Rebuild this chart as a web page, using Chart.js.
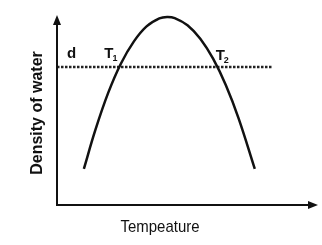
<!DOCTYPE html>
<html>
<head>
<meta charset="utf-8">
<script src="https://cdn.jsdelivr.net/npm/chart.js@4.4.1/dist/chart.umd.min.js"></script>
<style>
  html, body { margin: 0; padding: 0; background: #fff; }
  #wrap { width: 322px; height: 245px; }
</style>
</head>
<body>
<div id="wrap"><canvas id="c" width="322" height="245"></canvas></div>
<script>
// curve (temperature vs density, arbitrary units)
const tempValues = [1.05, 1.5, 2.0, 2.5, 3.0, 3.5, 4.0, 4.3, 4.6, 5.1, 5.6, 6.1, 6.6, 7.1, 7.73];
const densityValues = [1.9, 3.95, 5.9, 7.45, 8.6, 9.4, 9.82, 9.9, 9.84, 9.46, 8.75, 7.7, 6.3, 4.55, 1.9];

// dotted reference level d
const dLevel = 7.26;
const dRange = [0, 8.44];

// annotation labels
const markLabels = ['d', 'T', 'T'];
const markSubs = ['', '1', '2'];
const markX = [0.39, 1.85, 6.2];
const markY = [7.95, 7.95, 7.85];

const xTitle = 'Tempeature';
const yTitle = 'Density of water';

const drawAxes = {
    id: 'drawAxes',
    afterDraw(chart) {
        const ctx = chart.ctx;
        const xs = chart.scales.x, ys = chart.scales.y;
        const x0 = xs.getPixelForValue(0), y0 = ys.getPixelForValue(0);
        const xEnd = xs.getPixelForValue(xs.max), yEnd = ys.getPixelForValue(ys.max);
        ctx.save();
        ctx.strokeStyle = '#111';
        ctx.fillStyle = '#111';
        ctx.lineWidth = 2;
        ctx.beginPath();
        ctx.moveTo(x0, yEnd + 6);
        ctx.lineTo(x0, y0);
        ctx.lineTo(xEnd - 6, y0);
        ctx.stroke();
        // arrow heads
        ctx.beginPath();
        ctx.moveTo(x0, yEnd);
        ctx.lineTo(x0 - 4, yEnd + 10);
        ctx.lineTo(x0 + 4, yEnd + 10);
        ctx.closePath();
        ctx.fill();
        ctx.beginPath();
        ctx.moveTo(xEnd, y0);
        ctx.lineTo(xEnd - 10, y0 - 4);
        ctx.lineTo(xEnd - 10, y0 + 4);
        ctx.closePath();
        ctx.fill();

        // labels d, T1, T2
        ctx.textBaseline = 'middle';
        ctx.textAlign = 'left';
        markLabels.forEach((t, i) => {
            const px = xs.getPixelForValue(markX[i]);
            const py = ys.getPixelForValue(markY[i]);
            ctx.font = 'bold 15px "Liberation Sans", Arial, sans-serif';
            ctx.fillText(t, px, py);
            if (markSubs[i]) {
                const w = ctx.measureText(t).width;
                ctx.font = 'bold 9px "Liberation Sans", Arial, sans-serif';
                ctx.fillText(markSubs[i], px + w - 1, py + 5);
            }
        });

        // axis titles
        ctx.textAlign = 'center';
        ctx.save();
        ctx.translate(160, 227);
        ctx.scale(0.88, 1);
        ctx.font = '17px "Liberation Sans", Arial, sans-serif';
        ctx.fillText(xTitle, 0, 0);
        ctx.restore();
        ctx.translate(38, 113);
        ctx.rotate(-Math.PI / 2);
        ctx.font = 'bold 16px "Liberation Sans", Arial, sans-serif';
        ctx.fillText(yTitle, 0, 0);
        ctx.restore();
    }
};

new Chart(document.getElementById('c'), {
    type: 'line',
    data: {
        datasets: [
            {
                data: tempValues.map((t, i) => ({ x: t, y: densityValues[i] })),
                borderColor: '#111',
                borderWidth: 2.5,
                pointRadius: 0,
                tension: 0.4,
                fill: false
            },
            {
                data: [{ x: dRange[0], y: dLevel }, { x: dRange[1], y: dLevel }],
                borderColor: '#222',
                borderWidth: 2.5,
                borderDash: [2.5, 1.5],
                pointRadius: 0,
                fill: false
            }
        ]
    },
    plugins: [drawAxes],
    options: {
        responsive: false,
        animation: false,
        layout: { padding: { left: 57, right: 4, top: 15, bottom: 40 } },
        plugins: { legend: { display: false }, tooltip: { enabled: false } },
        scales: {
            x: { type: 'linear', min: 0, max: 10.2, display: false },
            y: { type: 'linear', min: 0, max: 10, display: false }
        }
    }
});
</script>
</body>
</html>
